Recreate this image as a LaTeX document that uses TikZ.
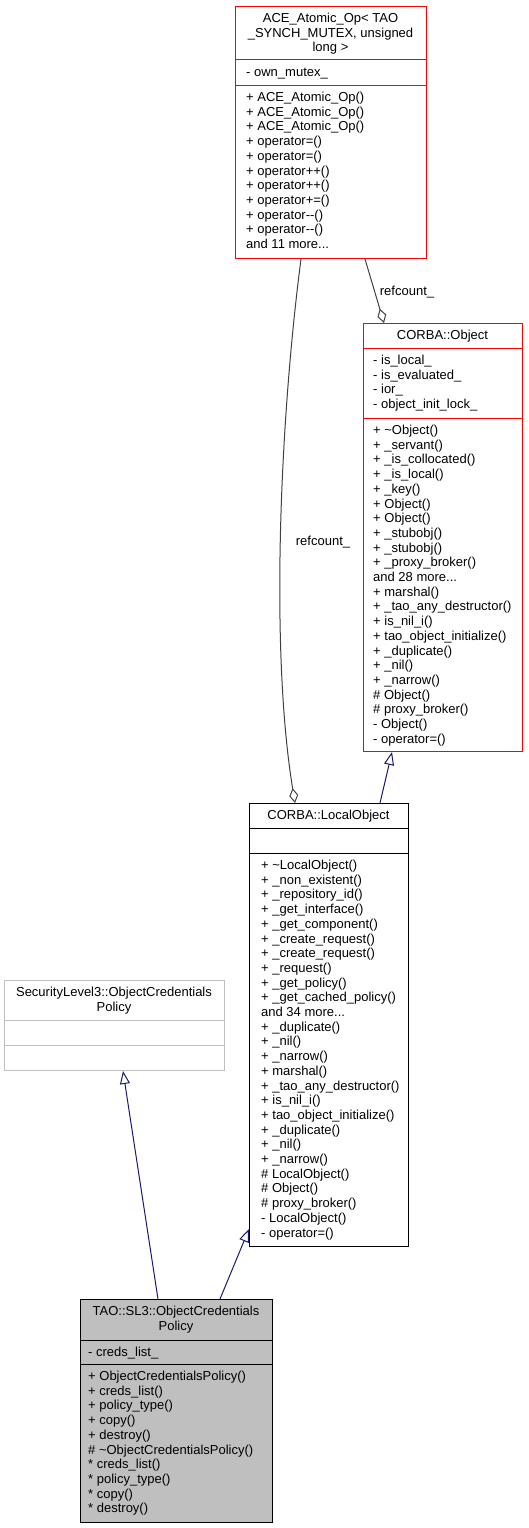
\documentclass[tikz,border=0pt]{standalone}
\usepackage{fontspec}
\setmainfont{Liberation Sans}
\usetikzlibrary{arrows.meta}
\definecolor{inhcol}{HTML}{191970}
\definecolor{compcol}{HTML}{404040}
\definecolor{grayborder}{HTML}{BFBFBF}
\definecolor{grayfill}{HTML}{BFBFBF}
\newcommand\umlfont{\fontsize{13}{14.7}\selectfont}
\newcommand\threedots{...}
\newcommand\umlLines[4]{%
  \foreach \linetext [count=\idx from 0] in {#4}
    \node[txt] (#1\idx) at (#2, {#3+14.7*\idx}) {\linetext};}
\newcommand\umlTitle[4]{%
  \foreach \linetext [count=\idx from 0] in {#4}
    \node[ttl] (#1\idx) at (#2, {#3+14.7*\idx}) {\linetext};}
\tikzset{
  box/.style={draw, line width=1pt, inner sep=0pt, anchor=north west},
  txt/.style={inner sep=0pt, anchor=base west, font=\umlfont},
  ttl/.style={inner sep=0pt, anchor=base, font=\umlfont},
  inh/.style={draw=inhcol, line width=1pt, -{Triangle[open, length=13pt, width=10pt]}},
  comp/.style={draw=compcol, line width=1pt, -{Diamond[open, length=15pt, width=9pt]}},
  elabel/.style={inner sep=0pt, anchor=base, font=\umlfont},
}
\begin{document}
\begin{tikzpicture}[x=1pt, y=-1pt]
\useasboundingbox (0,0) rectangle (528,1528);

% ---- ACE_Atomic_Op box
\node[box, draw=red, minimum width=191pt, minimum height=252pt] (ace) at (235,6) {};
\draw[red, line width=1pt] (235,60) -- (426,60);
\draw[red, line width=1pt] (235,85) -- (426,85);
\umlTitle{acet}{330.5}{22.5}{ACE\_Atomic\_Op< TAO, {\_SYNCH\_MUTEX, unsigned}, long >}
\umlLines{acea}{246}{76.5}{- own\_mutex\_}
\umlLines{acem}{246}{101.5}{+ ACE\_Atomic\_Op(), + ACE\_Atomic\_Op(), + ACE\_Atomic\_Op(), + operator=(), + operator=(), + operator++(), + operator++(), + operator+=(), + operator-\kern0pt-(), + operator-\kern0pt-(), and 11 more\threedots}

% ---- CORBA::Object box
\node[box, draw=red, minimum width=159pt, minimum height=428pt] (obj) at (363,323) {};
\draw[red, line width=1pt] (363,348) -- (522,348);
\draw[red, line width=1pt] (363,418) -- (522,418);
\umlTitle{objt}{442.5}{339.5}{CORBA::Object}
\umlLines{obja}{373}{364.5}{- is\_local\_, - is\_evaluated\_, - ior\_, - object\_init\_lock\_}
\umlLines{objm}{373}{434.5}{+ \textasciitilde Object(), + \_servant(), + \_is\_collocated(), + \_is\_local(), + \_key(), + Object(), + Object(), + \_stubobj(), + \_stubobj(), + \_proxy\_broker(), and 28 more\threedots, + marshal(), + \_tao\_any\_destructor(), + is\_nil\_i(), + tao\_object\_initialize(), + \_duplicate(), + \_nil(), + \_narrow(), \# Object(), \# proxy\_broker(), - Object(), - operator=()}

% ---- CORBA::LocalObject box
\node[box, draw=black, minimum width=159pt, minimum height=443pt] (lo) at (249,803) {};
\draw[black, line width=1pt] (249,828) -- (408,828);
\draw[black, line width=1pt] (249,853) -- (408,853);
\umlTitle{lot}{328.5}{819.5}{CORBA::LocalObject}
\umlLines{lom}{261}{869.5}{+ \textasciitilde LocalObject(), + \_non\_existent(), + \_repository\_id(), + \_get\_interface(), + \_get\_component(), + \_create\_request(), + \_create\_request(), + \_request(), + \_get\_policy(), + \_get\_cached\_policy(), and 34 more\threedots, + \_duplicate(), + \_nil(), + \_narrow(), + marshal(), + \_tao\_any\_destructor(), + is\_nil\_i(), + tao\_object\_initialize(), + \_duplicate(), + \_nil(), + \_narrow(), \# LocalObject(), \# Object(), \# proxy\_broker(), - LocalObject(), - operator=()}

% ---- SecurityLevel3::ObjectCredentialsPolicy box
\node[box, draw=grayborder, minimum width=220pt, minimum height=90pt] (sl3) at (4,980) {};
\draw[grayborder, line width=1pt] (4,1020) -- (224,1020);
\draw[grayborder, line width=1pt] (4,1045) -- (224,1045);
\umlTitle{sl3t}{114}{996.5}{SecurityLevel3::ObjectCredentials, Policy}

% ---- TAO::SL3::ObjectCredentialsPolicy box
\node[box, draw=black, fill=grayfill, minimum width=192pt, minimum height=223pt] (tao) at (80,1299) {};
\draw[black, line width=1pt] (80,1340) -- (272,1340);
\draw[black, line width=1pt] (80,1364) -- (272,1364);
\umlTitle{taot}{176}{1315.5}{TAO::SL3::ObjectCredentials, Policy}
\umlLines{taoa}{88}{1356.5}{- creds\_list\_}
\umlLines{taom}{88}{1380.5}{+ ObjectCredentialsPolicy(), + creds\_list(), + policy\_type(), + copy(), + destroy(), \# \textasciitilde ObjectCredentialsPolicy(), * creds\_list(), * policy\_type(), * copy(), * destroy()}

% ---- connectors
\draw[comp] ([xshift=130pt]ace.south west) -- ([xshift=21pt]obj.north west);
\node[elabel] (lbl1) at (407,295) {refcount\_};
\draw[comp] ([xshift=66pt]ace.south west) .. controls (280,420) and (270,650) .. ([xshift=46pt]lo.north west);
\node[elabel] (lbl2) at (323,545) {refcount\_};
\draw[inh] ([xshift=131pt]lo.north west) -- ([xshift=29pt]obj.south west);
\draw[inh] ([xshift=78pt]tao.north west) -- ([xshift=119pt]sl3.south west);
\draw[inh] ([xshift=140pt]tao.north west) -- ([yshift=18pt]lo.south west);
\end{tikzpicture}
\end{document}
